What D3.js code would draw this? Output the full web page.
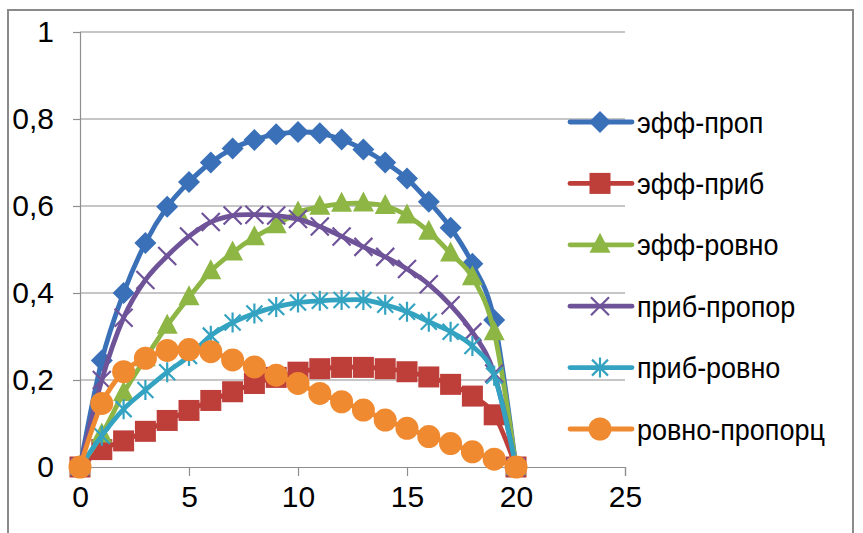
<!DOCTYPE html>
<html>
<head>
<meta charset="utf-8">
<script src="https://cdn.jsdelivr.net/npm/d3@7/dist/d3.min.js"></script>
<style>
  html, body { margin: 0; padding: 0; background: #fff; }
  svg { display: block; }
  text { font-family: "Liberation Sans Narrow", "Liberation Sans", Arial, sans-serif; fill: #000; }
</style>
</head>
<body>
<svg id="chart" width="863" height="533"></svg>
<script>
// x positions of the samples
const xValues = d3.range(0, 21);

// series values
const effProp   = [0, 0.245, 0.40, 0.515, 0.598, 0.655, 0.70, 0.732, 0.752, 0.765, 0.77, 0.767, 0.753, 0.73, 0.70, 0.663, 0.61, 0.55, 0.467, 0.338, 0];
const effPrib   = [0, 0.04, 0.06, 0.082, 0.107, 0.13, 0.153, 0.173, 0.192, 0.206, 0.218, 0.226, 0.229, 0.229, 0.226, 0.219, 0.207, 0.19, 0.163, 0.12, 0];
const effRovno  = [0, 0.075, 0.17, 0.25, 0.325, 0.39, 0.45, 0.493, 0.528, 0.556, 0.585, 0.598, 0.605, 0.606, 0.6, 0.578, 0.541, 0.491, 0.436, 0.31, 0];
const pribPropor= [0, 0.20, 0.343, 0.43, 0.485, 0.53, 0.563, 0.578, 0.58, 0.578, 0.57, 0.553, 0.53, 0.506, 0.483, 0.455, 0.42, 0.372, 0.31, 0.215, 0];
const pribRovno = [0, 0.072, 0.133, 0.177, 0.218, 0.255, 0.302, 0.332, 0.353, 0.368, 0.378, 0.382, 0.384, 0.384, 0.373, 0.357, 0.334, 0.311, 0.278, 0.21, 0];
const rovnoProp = [0, 0.146, 0.219, 0.25, 0.268, 0.27, 0.265, 0.246, 0.23, 0.211, 0.192, 0.169, 0.15, 0.131, 0.108, 0.089, 0.07, 0.054, 0.035, 0.018, 0];

const seriesNames = ["эфф-проп", "эфф-приб", "эфф-ровно", "приб-пропор", "приб-ровно", "ровно-пропорц"];
const seriesValues = [effProp, effPrib, effRovno, pribPropor, pribRovno, rovnoProp];
const seriesColors = ["#3a70b7", "#be3e3a", "#8db644", "#6f5399", "#34a3c1", "#f08a30"];
const seriesMarkers = ["diamond", "square", "triangle", "x", "star", "circle"];

// axis ticks
const xTicks = [0, 5, 10, 15, 20, 25];
const yTicks = [0, 0.2, 0.4, 0.6, 0.8, 1];
const yTickLabels = ["0", "0,2", "0,4", "0,6", "0,8", "1"];

const svg = d3.select("#chart");
const gridColor = "#8e8e8e";

const x = d3.scaleLinear().domain([0, 25]).range([80, 625]);
const y = d3.scaleLinear().domain([0, 1]).range([467, 32]);

// outer chart frame
svg.append("rect")
  .attr("x", 8).attr("y", 10).attr("width", 845).attr("height", 540)
  .attr("fill", "#fff").attr("stroke", "#8a8a8a").attr("stroke-width", 2);

// horizontal gridlines
svg.append("g").selectAll("line").data(yTicks.slice(1)).join("line")
  .attr("x1", x(0)).attr("x2", x(25))
  .attr("y1", d => y(d)).attr("y2", d => y(d))
  .attr("stroke", gridColor).attr("stroke-width", 1.2);

// y axis
const yAxis = svg.append("g").attr("transform", `translate(${x(0)},0)`)
  .call(d3.axisLeft(y).tickValues(yTicks).tickSize(7).tickPadding(19)
    .tickFormat((d, i) => yTickLabels[i]));
// x axis
const xAxis = svg.append("g").attr("transform", `translate(0,${y(0)})`)
  .call(d3.axisBottom(x).tickValues(xTicks).tickSize(9).tickPadding(10));

[yAxis, xAxis].forEach(g => {
  g.select(".domain").attr("stroke", gridColor).attr("stroke-width", 1.2);
  g.selectAll(".tick line").attr("stroke", gridColor).attr("stroke-width", 1.2);
  g.selectAll(".tick text").style("font-size", "30px").attr("fill", "#000");
});

// marker shapes
function drawMarker(g, type, color, cx, cy) {
  const s = 11;
  if (type === "diamond") {
    g.append("path").attr("d", `M${cx},${cy - s}L${cx + s},${cy}L${cx},${cy + s}L${cx - s},${cy}Z`)
      .attr("fill", color);
  } else if (type === "square") {
    g.append("rect").attr("x", cx - 10.5).attr("y", cy - 10.5).attr("width", 21).attr("height", 21)
      .attr("fill", color);
  } else if (type === "triangle") {
    g.append("path").attr("d", `M${cx},${cy - 12}L${cx + 10.5},${cy + 8}L${cx - 10.5},${cy + 8}Z`)
      .attr("fill", color);
  } else if (type === "x") {
    g.append("path").attr("d", `M${cx - 9},${cy - 9}L${cx + 9},${cy + 9}M${cx - 9},${cy + 9}L${cx + 9},${cy - 9}`)
      .attr("stroke", color).attr("stroke-width", 2.2).attr("fill", "none");
  } else if (type === "star") {
    g.append("path").attr("d", `M${cx - 8},${cy - 8}L${cx + 8},${cy + 8}M${cx - 8},${cy + 8}L${cx + 8},${cy - 8}M${cx},${cy - 10}L${cx},${cy + 10}`)
      .attr("stroke", color).attr("stroke-width", 2.2).attr("fill", "none");
  } else if (type === "circle") {
    g.append("circle").attr("cx", cx).attr("cy", cy).attr("r", 11.5).attr("fill", color);
  }
}

const line = d3.line()
  .x((d, i) => x(xValues[i]))
  .y(d => y(d))
  .curve(d3.curveCardinal.tension(0));

// series: line then markers, one series at a time
seriesValues.forEach((vals, k) => {
  const g = svg.append("g");
  g.append("path").datum(vals).attr("d", line)
    .attr("fill", "none").attr("stroke", seriesColors[k]).attr("stroke-width", 4.8)
    .attr("stroke-linejoin", "round");
  vals.forEach((v, i) => drawMarker(g, seriesMarkers[k], seriesColors[k], x(xValues[i]), y(v)));
});

// legend
const legend = svg.append("g");
seriesNames.forEach((name, k) => {
  const ly = 122 + k * 61.4;
  const g = legend.append("g");
  g.append("line").attr("x1", 570).attr("x2", 632).attr("y1", ly).attr("y2", ly)
    .attr("stroke", seriesColors[k]).attr("stroke-width", 4.8).attr("stroke-linecap", "round");
  drawMarker(g, seriesMarkers[k], seriesColors[k], 600, ly);
  g.append("text").attr("transform", `translate(637,${ly}) scale(0.9,1)`).attr("dy", "0.35em")
    .style("font-size", "30px").text(name);
});
</script>
</body>
</html>
